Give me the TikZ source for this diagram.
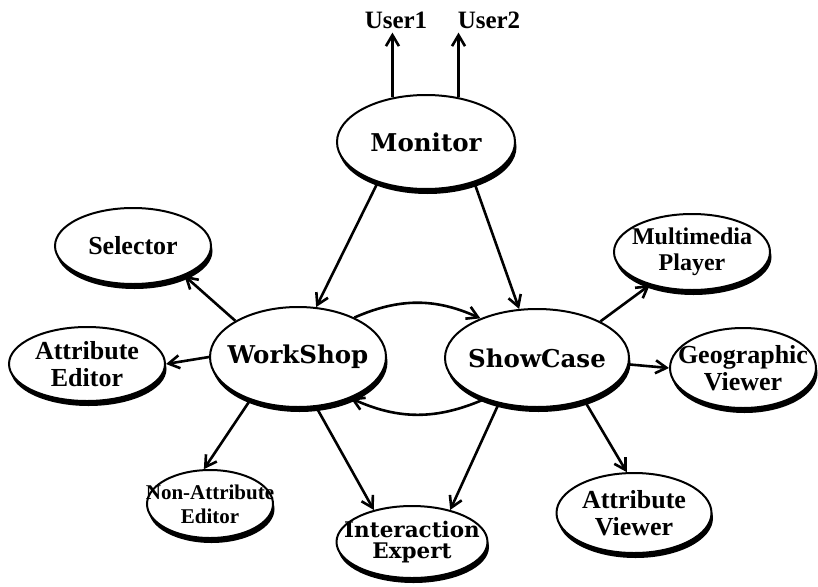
\documentclass[tikz,border=0pt]{standalone}
\usepackage{fontspec}
\usepackage{tikz}
\usetikzlibrary{arrows.meta, positioning, shapes.geometric, shadows, backgrounds}
\newfontfamily\labelfont{Liberation Serif}
\newfontfamily\procfont{DejaVu Serif}
\pgfdeclarelayer{background}
\pgfsetlayers{background,main}
\tikzset{
    proc/.style={ellipse, draw, line width=2pt, fill=white, inner xsep=-18pt, inner ysep=0pt, align=center,
        drop shadow={shadow xshift=1.5pt, shadow yshift=-5pt, fill=black, opacity=1}},
    bigproc/.style={proc, font=\procfont\bfseries\fontsize{24.5}{26}\selectfont},
    smallproc/.style={proc, font=\labelfont\bfseries\fontsize{26}{27}\selectfont},
    user/.style={font=\labelfont\bfseries\fontsize{25}{26}\selectfont, inner sep=1pt},
    flow/.style={-{Straight Barb[length=11pt,width=13pt]}, line width=2.6pt},
}

\begin{document}
\begin{tikzpicture}[x=1pt, y=-1pt]
    \useasboundingbox (0,0) rectangle (818,586);

    % managers
    \node[bigproc, minimum width=178pt, minimum height=94pt] (mon) at (426,142) {Monitor};
    \node[bigproc, minimum width=176pt, minimum height=100pt] (ws) at (298,357) {WorkShop};
    \node[bigproc, minimum width=184pt, minimum height=98pt] (sc) at (537,358) {ShowCase};

    % tools
    \node[smallproc, minimum width=156pt, minimum height=76pt] (sel) at (133,246) {Selector};
    \node[smallproc, minimum width=156pt, minimum height=74pt] (ae) at (87,364) {Attribute\\Editor};
    \node[smallproc, minimum width=126pt, minimum height=68pt, inner xsep=-22pt,
          font=\labelfont\bfseries\fontsize{21}{24}\selectfont] (nae) at (210,504) {Non-Attribute\\Editor};
    \node[proc, minimum width=151pt, minimum height=72pt,
          font=\procfont\bfseries\fontsize{21.5}{21}\selectfont] (ie) at (412,542) {Interaction\\Expert};
    \node[smallproc, minimum width=155pt, minimum height=80pt] (av) at (634,513) {Attribute\\Viewer};
    \node[smallproc, minimum width=146pt, minimum height=80pt] (gv) at (743,368) {Geographic\\Viewer};
    \node[smallproc, minimum width=156pt, minimum height=76pt,
          font=\labelfont\bfseries\fontsize{24}{26}\selectfont] (mm) at (692,252) {Multimedia\\Player};

    \node[user] (u1) at (396,20) {User1};
    \node[user] (u2) at (489,20) {User2};

    \begin{pgfonlayer}{background}
        \draw[flow, shorten >=3pt] (mon.127) -- (mon.127 |- u1.south);
        \draw[flow, shorten >=3pt] (mon.54) -- (mon.54 |- u2.south);
        \draw[flow] (mon.220) -- (ws.70);
        \draw[flow] (mon.-40) -- (sc.110);
        \draw[flow] (ws.35) to[bend left=24] (sc.145);
        \draw[flow] (sc.218) to[bend left=24] (ws.-38);
        \draw[flow] (ws.150) -- (sel.-30);
        \draw[flow] (ws.west) -- (ae.east);
        \draw[flow] (ws.222) -- (nae.100);
        \draw[flow] (ws.-70) -- (ie.140);
        \draw[flow] (sc.230) -- (ie.40);
        \draw[flow] (sc.-42) -- (av.100);
        \draw[flow] (sc.30) -- (mm.218);
        \draw[flow] (sc.-4) -- (gv.west);
    \end{pgfonlayer}
\end{tikzpicture}
\end{document}
